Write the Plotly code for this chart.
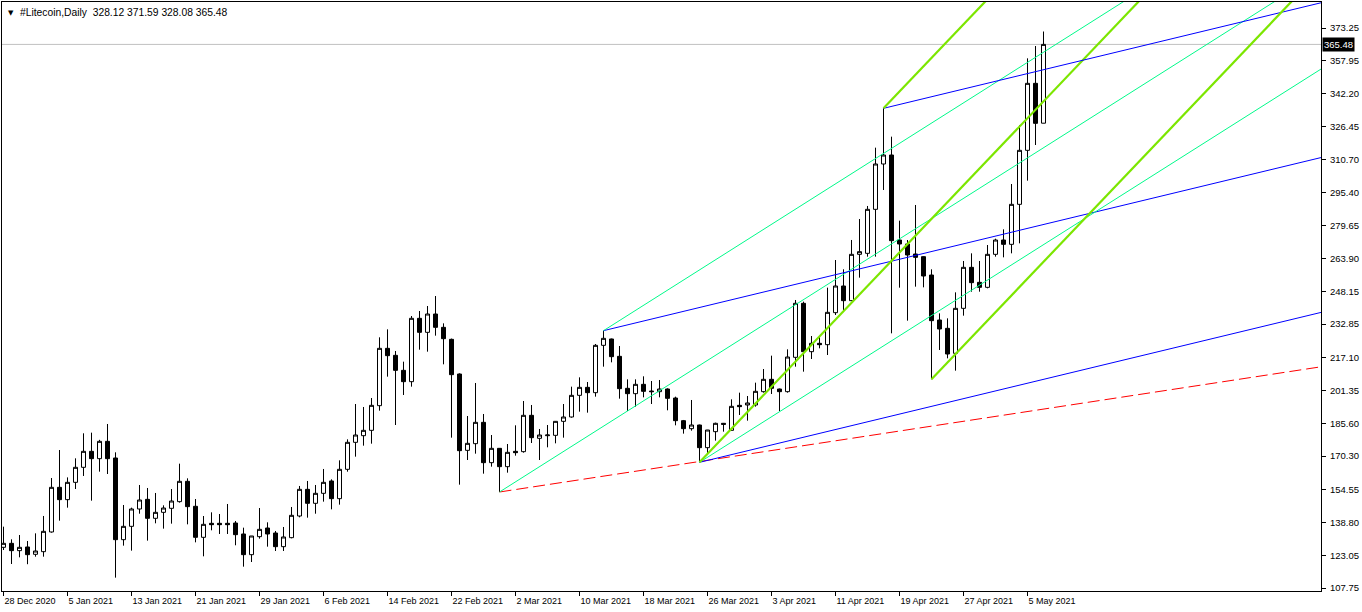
import plotly.graph_objects as go
import pandas as pd

# ---- Daily OHLC, one bar per day starting 28 Dec 2020 ----
first_day = "2020-12-28"
open_ = [127.04, 128.93, 125.46, 127.20, 123.72, 124.98, 134.31, 155.48, 149.64, 157.85,
         164.97, 172.55, 169.07, 177.29, 169.39, 130.67, 136.99, 145.21, 149.79, 140.79,
         143.63, 145.53, 148.69, 158.33, 146.48, 131.78, 138.42, 138.42, 138.42, 138.57,
         133.36, 123.56, 132.09, 136.20, 133.83, 127.35, 131.62, 141.89, 154.53, 147.90,
         152.64, 158.49, 150.11, 164.02, 176.81, 179.97, 182.50, 194.20, 221.38, 218.06,
         210.95, 205.58, 235.61, 228.97, 237.66, 231.34, 225.65, 209.21, 173.02, 176.18,
         186.30, 167.17, 173.97, 165.28, 172.55, 172.39, 189.62, 178.71, 179.97, 180.13,
         186.77, 188.83, 199.10, 202.89, 200.36, 222.80, 225.81, 217.59, 202.42, 199.89,
         204.31, 201.15, 200.84, 202.10, 197.83, 187.09, 183.29, 185.03, 174.29, 181.87,
         185.83, 182.50, 194.36, 194.52, 194.52, 200.84, 206.69, 202.10, 200.84, 217.12,
         242.72, 219.80, 223.75, 223.12, 238.29, 250.94, 243.98, 265.95, 266.42, 287.28,
         308.78, 313.04, 272.74, 270.85, 266.10, 264.84, 256.14, 234.81, 230.86, 219.01,
         240.34, 259.78, 252.67, 250.30, 265.95, 272.74, 270.69, 289.65, 315.26, 347.02,
         328.12]
high = [136.83, 130.83, 132.88, 130.04, 133.67, 141.90, 159.90, 173.18, 160.20, 169.23,
        181.09, 181.40, 178.00, 185.51, 172.08, 147.11, 145.84, 156.59, 155.17, 152.80,
        146.95, 154.69, 166.70, 159.75, 149.95, 141.89, 143.63, 142.84, 147.58, 139.52,
        136.36, 132.41, 145.68, 138.89, 134.78, 136.68, 146.16, 156.12, 158.49, 156.59,
        164.18, 159.28, 168.28, 178.24, 194.99, 193.57, 197.83, 226.60, 230.39, 220.12,
        215.06, 236.71, 239.08, 241.45, 246.19, 233.23, 226.00, 209.50, 189.30, 204.95,
        190.25, 180.29, 174.10, 176.02, 184.88, 196.41, 194.52, 183.14, 185.03, 186.90,
        194.99, 203.21, 207.63, 205.42, 223.44, 229.76, 226.00, 222.49, 206.68, 206.68,
        208.11, 205.89, 206.37, 202.42, 198.47, 187.41, 196.89, 185.20, 182.70, 186.14,
        186.00, 197.20, 200.36, 198.78, 205.10, 211.58, 217.90, 202.30, 220.91, 244.30,
        243.51, 227.23, 227.23, 250.15, 263.26, 258.84, 272.75, 282.70, 288.87, 316.52,
        335.17, 321.73, 281.91, 272.74, 289.34, 265.00, 258.84, 237.97, 235.60, 247.93,
        262.79, 266.42, 262.79, 270.37, 273.37, 277.80, 299.29, 327.26, 358.87, 364.72,
        371.59]
low = [125.77, 119.13, 122.30, 119.03, 122.60, 122.60, 133.99, 139.68, 145.84, 154.69,
       160.86, 149.16, 162.91, 161.80, 112.66, 127.83, 125.46, 142.98, 130.20, 138.42,
       135.89, 138.26, 148.22, 137.94, 129.40, 122.77, 135.10, 133.36, 133.36, 128.00,
       117.87, 120.08, 131.15, 127.35, 125.30, 125.30, 131.30, 141.26, 141.10, 142.98,
       148.69, 145.05, 147.27, 162.91, 170.02, 175.23, 176.18, 191.83, 207.95, 185.03,
       199.26, 203.21, 220.75, 219.80, 227.39, 213.80, 179.03, 156.74, 168.44, 171.44,
       161.96, 165.28, 153.27, 162.43, 170.49, 171.92, 176.50, 168.44, 174.45, 176.34,
       179.03, 188.51, 191.35, 190.88, 198.47, 212.69, 214.74, 197.52, 191.67, 193.72,
       198.15, 194.99, 198.15, 191.99, 184.88, 180.93, 182.35, 167.33, 171.60, 177.61,
       181.87, 182.19, 189.78, 187.09, 193.73, 200.36, 199.73, 191.67, 200.36, 212.69,
       210.32, 216.32, 221.38, 218.22, 237.19, 239.56, 243.82, 254.89, 264.84, 264.84,
       296.45, 228.49, 250.14, 234.50, 250.62, 250.30, 206.68, 220.60, 216.64, 210.79,
       236.87, 248.24, 248.24, 249.83, 264.84, 264.52, 266.42, 271.16, 300.87, 317.78,
       328.08]
close = [128.93, 125.46, 127.04, 123.56, 125.30, 134.62, 155.48, 149.64, 157.85, 164.97,
         172.55, 169.07, 177.29, 169.07, 130.67, 136.99, 145.21, 149.48, 140.79, 143.63,
         145.68, 149.00, 158.33, 146.32, 131.78, 137.94, 137.78, 137.78, 137.78, 133.04,
         123.56, 132.41, 135.57, 133.36, 127.35, 131.94, 142.21, 154.53, 147.90, 152.64,
         157.85, 150.11, 164.02, 176.82, 180.29, 182.50, 194.36, 221.38, 217.90, 210.95,
         205.58, 235.61, 228.97, 237.66, 231.34, 225.96, 208.90, 172.86, 176.34, 186.30,
         167.17, 173.97, 165.28, 172.07, 171.92, 189.62, 179.03, 180.29, 180.29, 186.77,
         188.83, 199.10, 202.89, 200.36, 222.80, 226.12, 217.43, 202.26, 199.89, 204.31,
         200.99, 200.84, 202.10, 197.67, 187.09, 183.29, 185.03, 174.29, 182.66, 185.83,
         185.35, 193.88, 193.73, 195.47, 201.00, 206.69, 202.42, 200.84, 217.27, 242.72,
         219.80, 223.75, 223.12, 238.45, 250.94, 243.98, 265.95, 267.21, 287.28, 308.78,
         313.04, 272.42, 270.85, 265.63, 264.52, 255.67, 234.50, 230.55, 218.69, 240.34,
         259.78, 252.51, 250.30, 265.95, 272.74, 270.69, 289.65, 315.26, 347.02, 328.05,
         365.48]

# ---- axis labels ----
x_tick_dates = ["2020-12-28", "2021-01-05", "2021-01-13", "2021-01-21", "2021-01-29",
                "2021-02-06", "2021-02-14", "2021-02-22", "2021-03-02", "2021-03-10",
                "2021-03-18", "2021-03-26", "2021-04-03", "2021-04-11", "2021-04-19",
                "2021-04-27", "2021-05-05"]
x_tick_labels = ["28 Dec 2020", "5 Jan 2021", "13 Jan 2021", "21 Jan 2021", "29 Jan 2021",
                 "6 Feb 2021", "14 Feb 2021", "22 Feb 2021", "2 Mar 2021", "10 Mar 2021",
                 "18 Mar 2021", "26 Mar 2021", "3 Apr 2021", "11 Apr 2021", "19 Apr 2021",
                 "27 Apr 2021", "5 May 2021"]
price_ticks = [373.25, 357.95, 342.20, 326.45, 310.70, 295.40, 279.65, 263.90, 248.15,
               232.85, 217.10, 201.35, 185.60, 170.30, 154.55, 138.80, 123.05, 107.75]

# ---- trend lines: start pivot (date, price) and slope (price per day) ----
line_start_dates = ["2021-02-28", "2021-02-28",
                    "2021-03-13", "2021-03-13",
                    "2021-03-25", "2021-03-25", "2021-03-25",
                    "2021-04-17", "2021-04-17",
                    "2021-04-23"]
line_start_prices = [153.27, 153.27,
                     229.76, 229.76,
                     167.33, 167.33, 167.33,
                     335.17, 335.17,
                     206.68]
line_slopes = [0.578, 2.40,
               0.915, 2.40,
               0.915, 2.40, 3.98,
               0.915, 3.98,
               3.98]
line_kinds = ["red", "cyan",
              "blue", "cyan",
              "blue", "cyan", "green",
              "blue", "green",
              "green"]

styles = {
    "red": dict(color="#FF0000", width=1, dash="12px,5px"),
    "cyan": dict(color="#00FA8A", width=1),
    "blue": dict(color="#0000FF", width=1),
    "green": dict(color="#7CE600", width=2.2),
}

symbol_title = "#Litecoin,Daily"

dates = pd.date_range(first_day, periods=len(open_), freq="D")
t0 = pd.Timestamp(first_day)
x_lo = t0 - pd.Timedelta(hours=4.5)
x_hi = t0 + pd.Timedelta(days=164.6875)
y_lo, y_hi = 106.33, 385.58

fig = go.Figure()
fig.add_trace(go.Candlestick(
    x=dates, open=open_, high=high, low=low, close=close,
    increasing=dict(fillcolor="white", line=dict(color="black", width=1)),
    decreasing=dict(fillcolor="black", line=dict(color="black", width=1)),
    whiskerwidth=0, showlegend=False, hoverinfo="skip",
))

for d, p, s, k in zip(line_start_dates, line_start_prices, line_slopes, line_kinds):
    ts = pd.Timestamp(d)
    days = (x_hi - ts) / pd.Timedelta(days=1)
    fig.add_trace(go.Scatter(
        x=[ts, x_hi], y=[p, p + s * days], mode="lines",
        line=styles[k], showlegend=False, hoverinfo="skip",
    ))

last_close = close[-1]
fig.add_shape(type="line", xref="paper", x0=0, x1=1, yref="y", y0=last_close, y1=last_close,
              line=dict(color="#C0C0C0", width=1), layer="below")

fig.add_annotation(xref="paper", yref="y", x=1, y=last_close, xanchor="left", yanchor="middle",
                   xshift=1, text=f"{last_close:.2f}", showarrow=False,
                   bgcolor="black", font=dict(color="white", size=9.5, family="Liberation Sans"),
                   borderpad=1)

fig.add_annotation(xref="paper", yref="paper", x=0, y=1, xanchor="left", yanchor="top",
                   xshift=4, yshift=-5, text="▼", showarrow=False,
                   font=dict(color="black", size=7, family="DejaVu Sans"))
fig.add_annotation(xref="paper", yref="paper", x=0, y=1, xanchor="left", yanchor="top",
                   xshift=16, yshift=-3,
                   text=f"{symbol_title}  {open_[-1]:.2f} {high[-1]:.2f} {low[-1]:.2f} {close[-1]:.2f}",
                   showarrow=False, font=dict(color="black", size=10.3, family="Liberation Sans"))

fig.update_layout(
    width=1362, height=612,
    margin=dict(l=2, r=41, t=2, b=21, autoexpand=False),
    paper_bgcolor="white", plot_bgcolor="white",
    boxgap=0.5, boxgroupgap=0,
    font=dict(family="Liberation Sans", size=10, color="black"),
    xaxis=dict(
        type="date", range=[x_lo, x_hi], rangeslider=dict(visible=False),
        tickvals=pd.to_datetime(x_tick_dates), ticktext=x_tick_labels,
        ticks="outside", ticklen=4, tickcolor="black", ticklabelposition="outside right",
        tickangle=0, automargin=False, ticklabelstandoff=1,
        showline=True, linecolor="black", linewidth=1, mirror=True,
        showgrid=False, zeroline=False, tickfont=dict(size=9),
    ),
    yaxis=dict(
        side="right", range=[y_lo, y_hi], automargin=False,
        tickvals=price_ticks, ticktext=[f"{v:.2f}" for v in price_ticks],
        ticks="outside", ticklen=4, tickcolor="black", ticklabelstandoff=2,
        showline=True, linecolor="black", linewidth=1, mirror=True,
        showgrid=False, zeroline=False, tickfont=dict(size=9.5),
    ),
)

fig.write_html("out.html", config={"displayModeBar": False},
               post_script="document.body.style.margin='0';document.body.style.overflow='hidden';")
